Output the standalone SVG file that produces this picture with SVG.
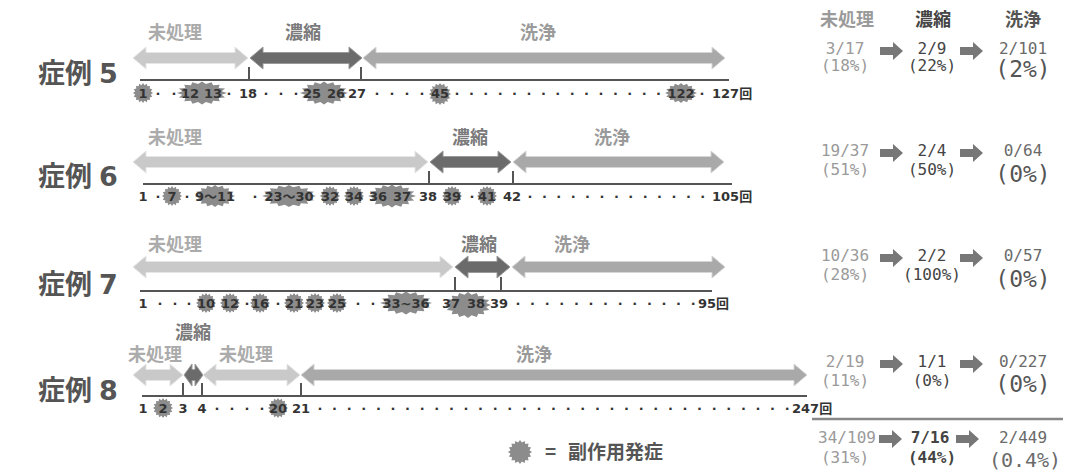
<svg xmlns="http://www.w3.org/2000/svg" xmlns:xlink="http://www.w3.org/1999/xlink" width="1069" height="471" viewBox="0 0 1069 471">
<defs>
<style>
.case{font-family:"Noto Sans CJK JP",sans-serif;font-weight:700;font-size:27px;fill:#555}
.cd{font-family:"DejaVu Sans",sans-serif}
.num{font-family:"DejaVu Sans","Noto Sans CJK JP",sans-serif;font-weight:700;font-size:13px;fill:#333;text-anchor:middle}
.end{text-anchor:start}
.lbl{font-family:"Noto Sans CJK JP",sans-serif;font-weight:700;font-size:18px;text-anchor:middle}
.l1{fill:#ababab}.l2{fill:#7a7a7a}.l3{fill:#9a9a9a}
.a1{fill:#c9c9c9;stroke:#e6e6e6;stroke-width:1}
.a2{fill:#6b6b6b;stroke:#9a9a9a;stroke-width:1}
.a3{fill:#a9a9a9;stroke:#d6d6d6;stroke-width:1}
.axis{stroke:#555;stroke-width:2;fill:none}
.val{font-family:"DejaVu Sans Mono","Noto Sans CJK JP",monospace;font-size:16px;text-anchor:middle}
.big{font-size:23px}
.c1{fill:#9a9a9a}.c2{fill:#444}.c3{fill:#6a6a6a}.c3b{fill:#555}
.bold{font-weight:700}
.ra{fill:#777}
.star{fill:#8c8c8c}
</style>
<path id="star" d="M10,0 L7.85,1.56 L9.24,3.83 L6.65,4.44 L7.07,7.07 L4.44,6.65 L3.83,9.24 L1.56,7.85 L0,10 L-1.56,7.85 L-3.83,9.24 L-4.44,6.65 L-7.07,7.07 L-6.65,4.44 L-9.24,3.83 L-7.85,1.56 L-10,0 L-7.85,-1.56 L-9.24,-3.83 L-6.65,-4.44 L-7.07,-7.07 L-4.44,-6.65 L-3.83,-9.24 L-1.56,-7.85 L0,-10 L1.56,-7.85 L3.83,-9.24 L4.44,-6.65 L7.07,-7.07 L6.65,-4.44 L9.24,-3.83 L7.85,-1.56 Z"/>
<path id="rarrow" d="M0,-4 L13,-4 L13,-9 L23,0 L13,9 L13,4 L0,4 Z"/>
</defs>
<rect width="1069" height="471" fill="#fff"/>

<!-- Case 5 -->
<g id="case5">
<text class="case" x="38" y="83">症例<tspan class="cd" dx="7">5</tspan></text>
<text class="lbl l1" x="175" y="39">未処理</text>
<text class="lbl l2" x="303" y="39">濃縮</text>
<text class="lbl l3" x="538" y="39">洗浄</text>
<polygon class="a1" points="133,58 146,47 146,52.5 235,52.5 235,47 248,58 235,69 235,63.5 146,63.5 146,69"/>
<polygon class="a2" points="250,58 263,47 263,52.5 349,52.5 349,47 362,58 349,69 349,63.5 263,63.5 263,69"/>
<polygon class="a3" points="363,58 376,47 376,52.5 712,52.5 712,47 725,58 712,69 712,63.5 376,63.5 376,69"/>
<path class="axis" d="M140,80 H729 M249,67 V80 M361,67 V80"/>
<g class="star">
<use xlink:href="#star" transform="translate(143,93)"/>
<use xlink:href="#star" transform="translate(202,93) scale(2.5,1.15)"/>
<use xlink:href="#star" transform="translate(324,93) scale(2.4,1.15)"/>
<use xlink:href="#star" transform="translate(440,94) scale(1.1)"/>
<use xlink:href="#star" transform="translate(681,93) scale(1.6,1)"/>
</g>
<text class="num" x="143" y="98">1</text>
<text class="num" x="158 174" y="98">··</text>
<text class="num" x="190" y="98">12</text>
<text class="num" x="213" y="98">13</text>
<text class="num" x="229" y="98">·</text>
<text class="num" x="248" y="98">18</text>
<text class="num" x="266 281 296" y="98">···</text>
<text class="num" x="312" y="98">25</text>
<text class="num" x="336" y="98">26</text>
<text class="num" x="357" y="98">27</text>
<text class="num" x="377 392 407 422" y="98">····</text>
<text class="num" x="440" y="98">45</text>
<text class="num" x="457 471.4 485.8 500.2 514.6 529 543.4 557.8 572.2 586.6 601 615.4 629.8 644.2 658.6" y="98">···············</text>
<text class="num" x="681" y="98">122</text>
<text class="num" x="702" y="98">·</text>
<text class="num end" x="712" y="98">127回</text>
</g>

<!-- Case 6 -->
<g id="case6">
<text class="case" x="38" y="186">症例<tspan class="cd" dx="7">6</tspan></text>
<text class="lbl l1" x="175" y="144">未処理</text>
<text class="lbl l2" x="470" y="144">濃縮</text>
<text class="lbl l3" x="612" y="144">洗浄</text>
<polygon class="a1" points="133,162 146,151 146,156.5 415,156.5 415,151 428,162 415,173 415,167.5 146,167.5 146,173"/>
<polygon class="a2" points="430,162 443,151 443,156.5 498,156.5 498,151 511,162 498,173 498,167.5 443,167.5 443,173"/>
<polygon class="a3" points="513,162 526,151 526,156.5 711,156.5 711,151 724,162 711,173 711,167.5 526,167.5 526,173"/>
<path class="axis" d="M143,184 H732 M429,171 V184 M513,171 V184"/>
<g class="star">
<use xlink:href="#star" transform="translate(172,196)"/>
<use xlink:href="#star" transform="translate(215,196) scale(2.0,1.1)"/>
<use xlink:href="#star" transform="translate(289,196) scale(2.7,1.1)"/>
<use xlink:href="#star" transform="translate(330,196)"/>
<use xlink:href="#star" transform="translate(354,196)"/>
<use xlink:href="#star" transform="translate(392,196) scale(2.4,1.15)"/>
<use xlink:href="#star" transform="translate(452,196)"/>
<use xlink:href="#star" transform="translate(487,196)"/>
</g>
<text class="num" x="143" y="201">1</text>
<text class="num" x="158" y="201">·</text>
<text class="num" x="172" y="201">7</text>
<text class="num" x="187" y="201">·</text>
<text class="num" x="215" y="201">9～11</text>
<text class="num" x="255" y="201">·</text>
<text class="num" x="289" y="201">23～30</text>
<text class="num" x="330" y="201">32</text>
<text class="num" x="354" y="201">34</text>
<text class="num" x="378" y="201">36</text>
<text class="num" x="402" y="201">37</text>
<text class="num" x="428" y="201">38</text>
<text class="num" x="452" y="201">39</text>
<text class="num" x="472" y="201">·</text>
<text class="num" x="487" y="201">41</text>
<text class="num" x="512" y="201">42</text>
<text class="num" x="530 544.4 558.8 573.2 587.6 602 616.4 630.8 645.2 659.6 674 688.4 702.8" y="201">·············</text>
<text class="num end" x="712" y="201">105回</text>
</g>

<!-- Case 7 -->
<g id="case7">
<text class="case" x="38" y="294">症例<tspan class="cd" dx="7">7</tspan></text>
<text class="lbl l1" x="175" y="251">未処理</text>
<text class="lbl l2" x="479" y="251">濃縮</text>
<text class="lbl l3" x="572" y="251">洗浄</text>
<polygon class="a1" points="133,267 146,256 146,261.5 440,261.5 440,256 453,267 440,278 440,272.5 146,272.5 146,278"/>
<polygon class="a2" points="455,267 468,256 468,261.5 497,261.5 497,256 510,267 497,278 497,272.5 468,272.5 468,278"/>
<polygon class="a3" points="512,267 525,256 525,261.5 712,261.5 712,256 725,267 712,278 712,272.5 525,272.5 525,278"/>
<path class="axis" d="M140,291 H712 M455,277 V291 M501,277 V291"/>
<g class="star">
<use xlink:href="#star" transform="translate(206,303)"/>
<use xlink:href="#star" transform="translate(230,303)"/>
<use xlink:href="#star" transform="translate(260,303)"/>
<use xlink:href="#star" transform="translate(294,303)"/>
<use xlink:href="#star" transform="translate(315,303)"/>
<use xlink:href="#star" transform="translate(337,303)"/>
<use xlink:href="#star" transform="translate(406,303) scale(2.6,1.15)"/>
<use xlink:href="#star" transform="translate(468,305) scale(2.3,1.3)"/>
</g>
<text class="num" x="143" y="308">1</text>
<text class="num" x="160 175 189" y="308">···</text>
<text class="num" x="206" y="308">10</text>
<text class="num" x="230" y="308">12</text>
<text class="num" x="247" y="308">·</text>
<text class="num" x="260" y="308">16</text>
<text class="num" x="278" y="308">·</text>
<text class="num" x="294" y="308">21</text>
<text class="num" x="315" y="308">23</text>
<text class="num" x="337" y="308">25</text>
<text class="num" x="358 373" y="308">··</text>
<text class="num" x="406" y="308">33~36</text>
<text class="num" x="451" y="308">37</text>
<text class="num" x="476" y="308">38</text>
<text class="num" x="499" y="308">39</text>
<text class="num" x="518 532.6 547.2 561.8 576.4 591 605.6 620.2 634.8 649.4 664 678.6 693.2" y="308">·············</text>
<text class="num end" x="698" y="308">95回</text>
</g>

<!-- Case 8 -->
<g id="case8">
<text class="case" x="38" y="400">症例<tspan class="cd" dx="7">8</tspan></text>
<text class="lbl l2" x="193" y="339">濃縮</text>
<text class="lbl l1" x="155" y="361">未処理</text>
<text class="lbl l1" x="246" y="361">未処理</text>
<text class="lbl l3" x="534" y="361">洗浄</text>
<polygon class="a1" points="133,375 146,364 146,369.5 170,369.5 170,364 183,375 170,386 170,380.5 146,380.5 146,386"/>
<polygon class="a2" points="184,375 192,364 192,369.5 195,369.5 195,364 203,375 195,386 195,380.5 192,380.5 192,386"/>
<polygon class="a1" points="203,375 216,364 216,369.5 287,369.5 287,364 300,375 287,386 287,380.5 216,380.5 216,386"/>
<polygon class="a3" points="301,375 314,364 314,369.5 794,369.5 794,364 807,375 794,386 794,380.5 314,380.5 314,386"/>
<path class="axis" d="M142,396 H807 M183,383 V396 M202,383 V396 M301,383 V396"/>
<g class="star">
<use xlink:href="#star" transform="translate(163,408)"/>
<use xlink:href="#star" transform="translate(278,408)"/>
</g>
<text class="num" x="143" y="413">1</text>
<text class="num" x="163" y="413">2</text>
<text class="num" x="183" y="413">3</text>
<text class="num" x="202" y="413">4</text>
<text class="num" x="217 232 247 262" y="413">····</text>
<text class="num" x="278" y="413">20</text>
<text class="num" x="301" y="413">21</text>
<text class="num" x="320 334.6 349.2 363.8 378.4 393 407.6 422.2 436.8 451.4 466 480.6 495.2 509.8 524.4 539 553.6 568.2 582.8 597.4 612 626.6 641.2 655.8 670.4 685 699.6 714.2 728.8 743.4 758 772.6 787.2" y="413">·································</text>
<text class="num end" x="792" y="413">247回</text>
</g>

<!-- Legend -->
<g id="legend">
<use class="star" xlink:href="#star" transform="translate(520,452) scale(1.2)"/>
<text class="lbl" x="545" y="459" style="text-anchor:start;fill:#555;font-size:19px">=</text>
<text class="lbl" x="568" y="459" style="text-anchor:start;fill:#555;font-size:19px">副作用発症</text>
</g>

<!-- Summary table -->
<g id="summary-header">
<text class="lbl c1" x="847" y="26">未処理</text>
<text class="lbl c2" x="933" y="26">濃縮</text>
<text class="lbl c3b" x="1023" y="26">洗浄</text>
</g>
<g id="summary5">
<text class="val c1" x="845" y="54">3/17</text>
<text class="val c1" x="845" y="71">(18%)</text>
<text class="val c2" x="932" y="54">2/9</text>
<text class="val c2" x="932" y="71">(22%)</text>
<text class="val c3" x="1023" y="54">2/101</text>
<text class="val big c3b" x="1023" y="77">(2%)</text>
</g>
<g id="summary6">
<text class="val c1" x="845" y="156">19/37</text>
<text class="val c1" x="845" y="175">(51%)</text>
<text class="val c2" x="932" y="156">2/4</text>
<text class="val c2" x="932" y="175">(50%)</text>
<text class="val c3" x="1023" y="156">0/64</text>
<text class="val big c3b" x="1023" y="182">(0%)</text>
</g>
<g id="summary7">
<text class="val c1" x="845" y="261">10/36</text>
<text class="val c1" x="845" y="280">(28%)</text>
<text class="val c2" x="932" y="261">2/2</text>
<text class="val c2" x="932" y="280">(100%)</text>
<text class="val c3" x="1023" y="261">0/57</text>
<text class="val big c3b" x="1023" y="287">(0%)</text>
</g>
<g id="summary8">
<text class="val c1" x="845" y="367">2/19</text>
<text class="val c1" x="845" y="386">(11%)</text>
<text class="val c2" x="932" y="367">1/1</text>
<text class="val c2" x="932" y="386">(0%)</text>
<text class="val c3" x="1023" y="367">0/227</text>
<text class="val big c3b" x="1023" y="392">(0%)</text>
</g>
<line x1="812" y1="419" x2="1063" y2="419" stroke="#888" stroke-width="2.5"/>
<g id="summary-total">
<text class="val c1" x="847" y="443">34/109</text>
<text class="val c1" x="845" y="463">(31%)</text>
<text class="val c2 bold" x="930" y="443">7/16</text>
<text class="val c2 bold" x="932" y="463">(44%)</text>
<text class="val c3" x="1023" y="443">2/449</text>
<text class="val c3" x="1025" y="467" style="font-size:20px">(0.4%)</text>
</g>

<g id="connectors" class="ra">
<use xlink:href="#rarrow" transform="translate(880,51)"/>
<use xlink:href="#rarrow" transform="translate(960,51)"/>
<use xlink:href="#rarrow" transform="translate(880,153)"/>
<use xlink:href="#rarrow" transform="translate(960,153)"/>
<use xlink:href="#rarrow" transform="translate(880,258)"/>
<use xlink:href="#rarrow" transform="translate(960,258)"/>
<use xlink:href="#rarrow" transform="translate(880,364)"/>
<use xlink:href="#rarrow" transform="translate(960,364)"/>
<use xlink:href="#rarrow" transform="translate(879,439)"/>
<use xlink:href="#rarrow" transform="translate(956,439)"/>
</g>
</svg>
